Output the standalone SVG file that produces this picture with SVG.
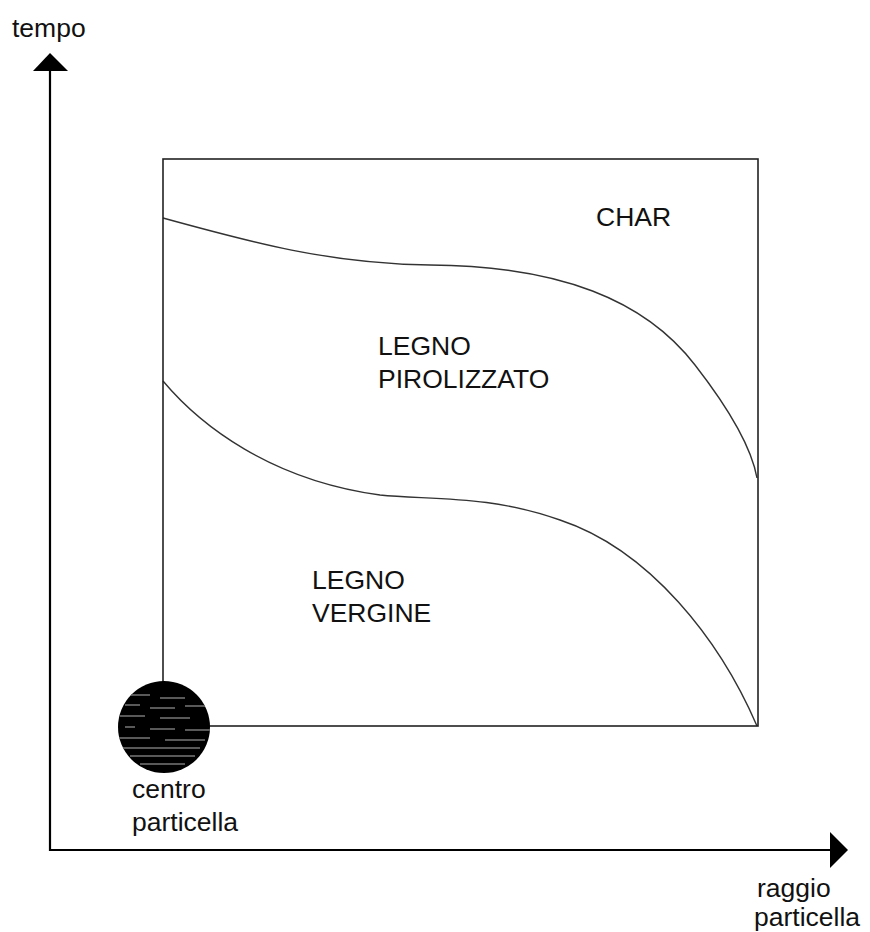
<svg xmlns="http://www.w3.org/2000/svg" width="870" height="932" viewBox="0 0 870 932">
<style>
.axis{stroke:#000;stroke-width:2.2;fill:none}
.frame{stroke:#222;stroke-width:1.6;fill:none}
.curve{stroke:#333;stroke-width:1.4;fill:none}
.lbl{font-family:"Liberation Sans",Arial,sans-serif;font-size:26.5px;fill:#111}
.streak{stroke:#777;stroke-width:1.6}
</style>
<defs>
<clipPath id="cc"><circle cx="164" cy="727" r="46"/></clipPath>
</defs>
<g id="connectors">
<line class="axis" x1="50" y1="68" x2="50" y2="851"/>
<polygon points="50,53 33,71 68,71" fill="#000"/>
<line class="axis" x1="49" y1="850" x2="832" y2="850"/>
<polygon points="848,850 830,832 830,868" fill="#000"/>
<path class="curve" d="M163,218 C250,242 330,264 430,265 C560,266 645,300 695,365 C730,410 752,450 757,478"/>
<path class="curve" d="M163,381 C200,425 270,480 380,495 C430,500 490,495 560,520 C650,550 720,640 757,726"/>
</g>
<g id="frame">
<rect class="frame" x="163" y="159" width="595" height="567"/>
</g>
<g id="particle">
<circle cx="164" cy="727" r="46" fill="#000"/>
<g clip-path="url(#cc)" class="streak">
<line x1="130" y1="695" x2="150" y2="695"/><line x1="160" y1="698" x2="185" y2="698"/>
<line x1="125" y1="705" x2="140" y2="705"/><line x1="150" y1="708" x2="175" y2="708"/><line x1="185" y1="706" x2="205" y2="706"/>
<line x1="120" y1="716" x2="145" y2="716"/><line x1="160" y1="718" x2="190" y2="718"/>
<line x1="125" y1="727" x2="135" y2="727"/><line x1="150" y1="729" x2="175" y2="729"/><line x1="185" y1="730" x2="210" y2="730"/>
<line x1="118" y1="738" x2="150" y2="738"/><line x1="165" y1="740" x2="205" y2="740"/>
<line x1="120" y1="748" x2="200" y2="748"/><line x1="130" y1="756" x2="195" y2="756"/>
<line x1="140" y1="764" x2="185" y2="764"/>
</g>
</g>
<g id="labels">
<text class="lbl" x="12" y="37">tempo</text>
<text class="lbl" x="596" y="226">CHAR</text>
<text class="lbl" x="378" y="355">LEGNO</text>
<text class="lbl" x="378" y="388">PIROLIZZATO</text>
<text class="lbl" x="312" y="589">LEGNO</text>
<text class="lbl" x="312" y="622">VERGINE</text>
<text class="lbl" x="132" y="798">centro</text>
<text class="lbl" x="132" y="831">particella</text>
<text class="lbl" x="757" y="897">raggio</text>
<text class="lbl" x="754" y="926">particella</text>
</g>
</svg>
